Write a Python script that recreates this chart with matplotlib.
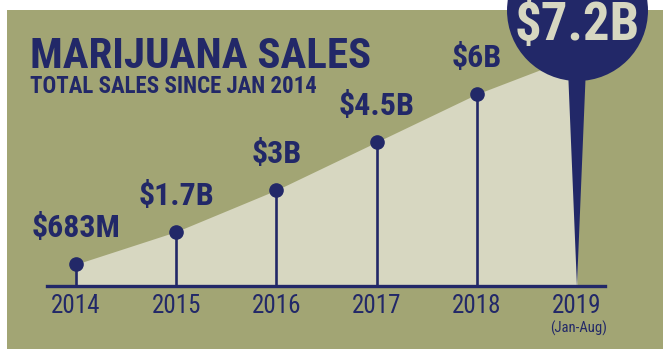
import matplotlib
matplotlib.use("Agg")
import matplotlib.pyplot as plt
from matplotlib.patches import Rectangle
from matplotlib.transforms import ScaledTranslation

plt.rcParams['font.family'] = ['Roboto Condensed', 'DejaVu Sans']

years = [2014, 2015, 2016, 2017, 2018, 2019]
sales = [0.683, 1.7, 3.0, 4.5, 6.0, 7.2]  # billions of dollars
value_labels = ["$683M", "$1.7B", "$3B", "$4.5B", "$6B", "$7.2B"]
year_labels = ["2014", "2015", "2016", "2017", "2018", "2019"]

OLIVE = "#a2a574"
CREAM = "#d7d7c1"
NAVY = "#222868"

fig = plt.figure(figsize=(6.63, 3.49), dpi=100)
fig.patch.set_facecolor("white")
fig.patches.append(Rectangle((7 / 663, 0), 1, 339 / 349, transform=fig.transFigure,
                             facecolor=OLIVE, edgecolor="none", zorder=-5))

ax = fig.add_axes([47 / 663, 63 / 349, 558 / 663, 286 / 349])
ax.set_facecolor("none")
ax.set_xlim(2013.71, 2019.28)
ax.set_ylim(0, 8.94)

# area under the running total
ax.fill_between(years, sales, 0, color=CREAM, lw=0, zorder=1)

# stems and dots for the full years
ax.vlines(years[:-1], 0, sales[:-1], color=NAVY, lw=1.9, zorder=2)
ax.plot(years[:-1], sales[:-1], "o", color=NAVY, ms=9.5, zorder=3)

for x, y, lab in zip(years[:-1], sales[:-1], value_labels[:-1]):
    ax.annotate(lab, (x, y), xytext=(0, 15), textcoords="offset points",
                ha="center", va="bottom", fontsize=23, fontweight="bold",
                color=NAVY, zorder=4)

# callout for the 2019 total: tapered pin plus big disc
last_x, last_y = years[-1], sales[-1]
ax.fill([last_x - 0.095, last_x + 0.095, last_x], [last_y, last_y, 0],
        color=NAVY, lw=0, zorder=5, clip_on=False)
lift = ax.transData + ScaledTranslation(0, 0.46, fig.dpi_scale_trans)
ax.plot([last_x], [last_y], "o", color=NAVY, ms=101.5, mew=0,
        transform=lift, clip_on=False, zorder=6)
ax.annotate(value_labels[-1], (last_x, last_y), xytext=(0.5, 22),
            textcoords="offset points", ha="center", va="center",
            fontsize=38, fontweight="bold", color=CREAM, zorder=7,
            annotation_clip=False)

# baseline and year labels
for side in ["top", "right", "left"]:
    ax.spines[side].set_visible(False)
ax.spines["bottom"].set_color(NAVY)
ax.spines["bottom"].set_linewidth(2.4)
ax.spines["bottom"].set_zorder(8)
ax.set_yticks([])
ax.set_xticks(years)
ax.set_xticklabels(year_labels, fontsize=18, fontweight="normal", color=NAVY)
ax.tick_params(axis="x", length=0, pad=6)
ax.annotate("(Jan-Aug)", (last_x, 0), xytext=(1, -25), textcoords="offset points",
            ha="center", va="top", fontsize=10.5, color=NAVY, annotation_clip=False)

fig.text(30 / 663, 1 - 68 / 349, "MARIJUANA SALES", fontsize=31, fontweight="bold",
         color=NAVY, ha="left", va="baseline")
fig.text(30 / 663, 1 - 93 / 349, "TOTAL SALES SINCE JAN 2014", fontsize=16.5,
         fontweight="bold", color=NAVY, ha="left", va="baseline")

fig.savefig("out.png", dpi=100, facecolor=fig.get_facecolor())
